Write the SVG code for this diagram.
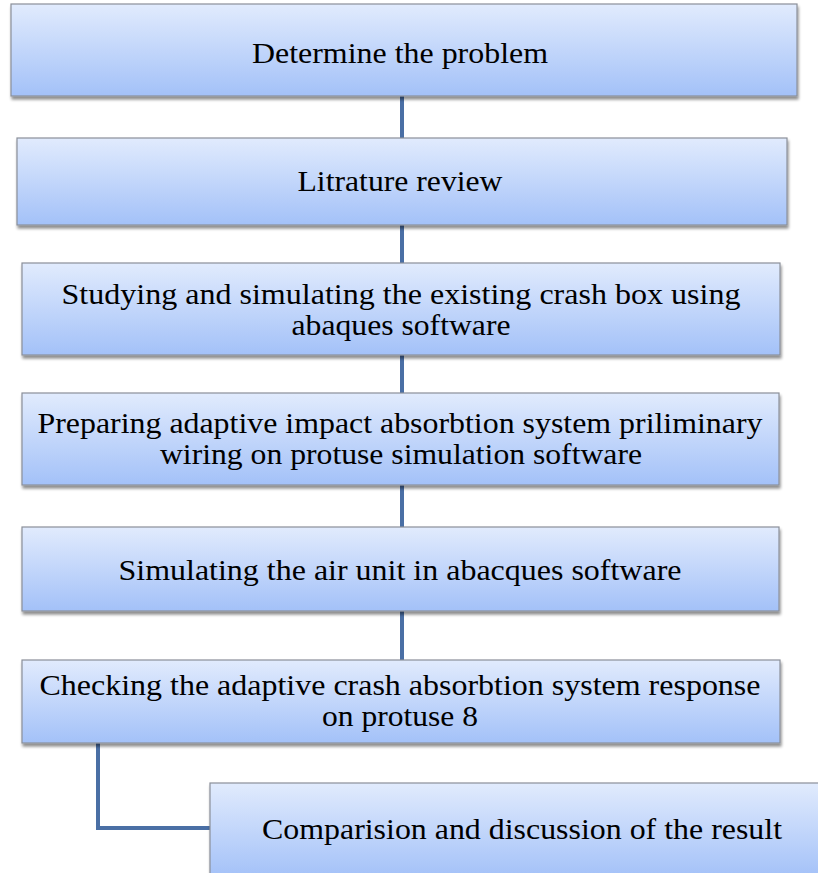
<svg xmlns="http://www.w3.org/2000/svg" width="818" height="873" viewBox="0 0 818 873">
<defs>
<linearGradient id="g" x1="0" y1="0" x2="0" y2="1">
<stop offset="0" stop-color="#e1ebfd"/>
<stop offset="1" stop-color="#a3c1f8"/>
</linearGradient>
<filter id="sh" x="-5%" y="-10%" width="110%" height="130%">
<feGaussianBlur in="SourceAlpha" stdDeviation="1.5"/>
<feOffset dx="1" dy="3" result="b"/>
<feComponentTransfer><feFuncA type="linear" slope="0.45"/></feComponentTransfer>
<feMerge><feMergeNode/><feMergeNode in="SourceGraphic"/></feMerge>
</filter>
</defs>
<style>
.box{fill:url(#g);stroke:#8a8f99;stroke-width:1.2;filter:url(#sh)}
.c{fill:none;stroke:#4a6fa5;stroke-width:4}
</style>
<rect width="818" height="873" fill="#fff"/>
<g id="connectors">
<line class="c" x1="402" y1="96" x2="402" y2="138"/>
<line class="c" x1="402" y1="225" x2="402" y2="263"/>
<line class="c" x1="402" y1="355" x2="402" y2="393"/>
<line class="c" x1="402" y1="485" x2="402" y2="527"/>
<line class="c" x1="402" y1="611" x2="402" y2="660"/>
<polyline class="c" points="98,743 98,828 212,828"/>
</g>
<g font-family="Times New Roman, Liberation Serif, Tinos, DejaVu Serif, serif" font-size="29" fill="#000" text-anchor="middle">
<g id="n1"><rect class="box" x="11" y="4" width="786" height="92"/><text x="400" y="63" textLength="296" lengthAdjust="spacingAndGlyphs">Determine the problem</text></g>
<g id="n2"><rect class="box" x="17" y="138" width="770" height="87"/><text x="400" y="191" textLength="205" lengthAdjust="spacingAndGlyphs">Litrature review</text></g>
<g id="n3"><rect class="box" x="22" y="263" width="758" height="92"/><text x="401" y="304" textLength="679" lengthAdjust="spacingAndGlyphs">Studying and simulating the existing crash box using</text><text x="401" y="335" textLength="219" lengthAdjust="spacingAndGlyphs">abaques software</text></g>
<g id="n4"><rect class="box" x="22" y="393" width="757" height="92"/><text x="400" y="433" textLength="725" lengthAdjust="spacingAndGlyphs">Preparing adaptive impact absorbtion system priliminary</text><text x="401" y="464" textLength="482" lengthAdjust="spacingAndGlyphs">wiring on protuse simulation software</text></g>
<g id="n5"><rect class="box" x="22" y="527" width="757" height="84"/><text x="400" y="580" textLength="563" lengthAdjust="spacingAndGlyphs">Simulating the air unit in abacques software</text></g>
<g id="n6"><rect class="box" x="22" y="660" width="758" height="83"/><text x="400" y="695" textLength="721" lengthAdjust="spacingAndGlyphs">Checking the adaptive crash absorbtion system response</text><text x="400" y="726" textLength="156" lengthAdjust="spacingAndGlyphs">on protuse 8</text></g>
<g id="n7"><rect class="box" x="210" y="783" width="620" height="95"/><text x="522" y="839" textLength="520" lengthAdjust="spacingAndGlyphs">Comparision and discussion of the result</text></g>
</g>
</svg>
